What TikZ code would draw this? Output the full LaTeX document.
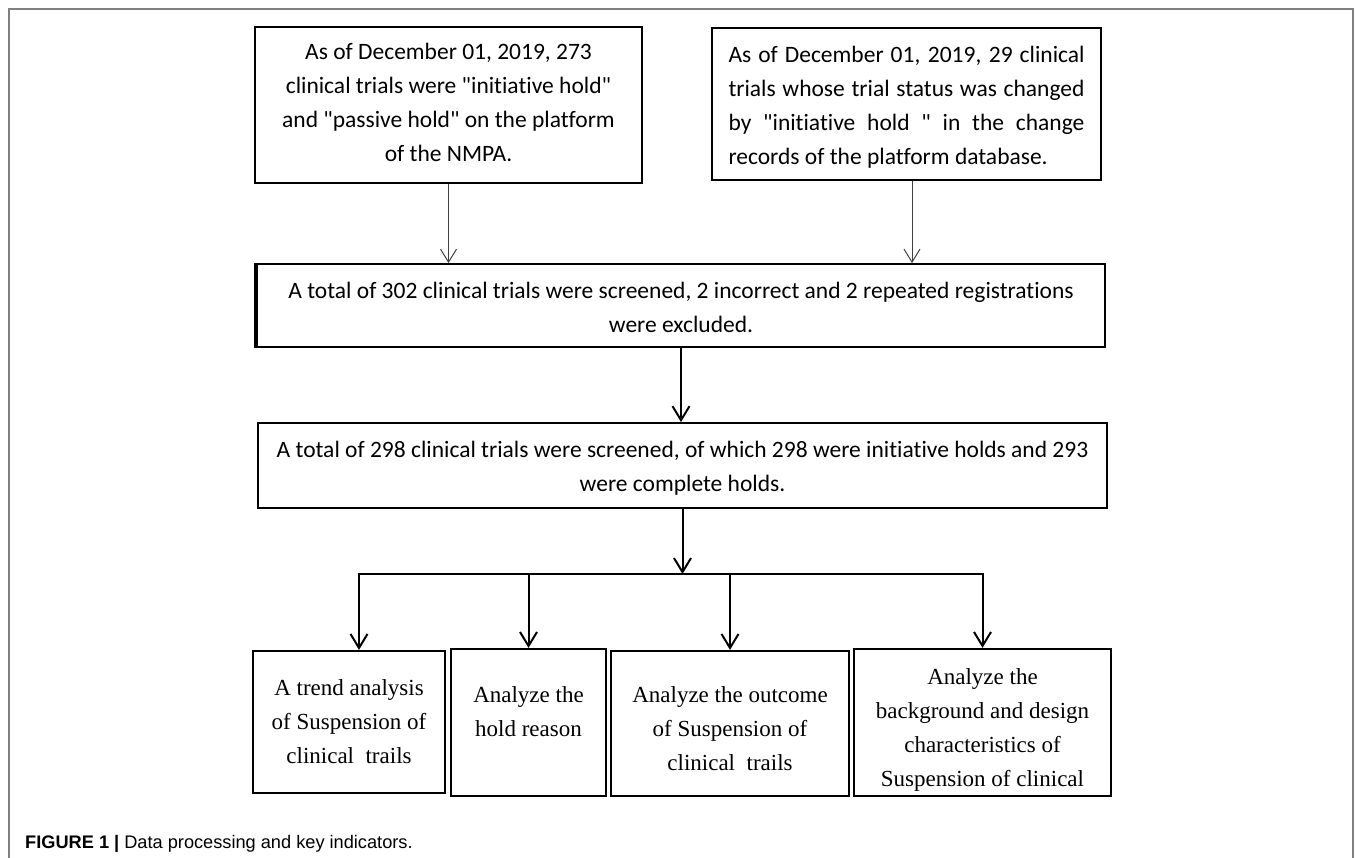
\documentclass[tikz,border=0pt]{standalone}
\usepackage{fontspec}
\newfontfamily\fcal[Ligatures={NoCommon}]{Carlito}
\newfontfamily\ftimes{Liberation Serif}
\newfontfamily\farial{Liberation Sans}
\usetikzlibrary{arrows.meta}
\definecolor{framegray}{HTML}{7F7F7F}
\begin{document}
\begin{tikzpicture}[x=1pt,y=-1pt,
  box/.style={draw=black, line width=1.8pt, inner sep=0pt},
  lowbox/.style={draw=black, line width=2.2pt, inner sep=0pt},
  toptext/.style={inner sep=0pt, align=center, font=\fcal\fontsize{23.5}{34}\selectfont},
  lowtext/.style={inner sep=0pt, align=center, font=\ftimes\fontsize{23}{34}\selectfont},
  thinarrow/.style={draw=black!75, line width=1pt, -{Straight Barb[length=13pt,width=16pt]}},
  thickarrow/.style={draw=black, line width=2pt, -{Straight Barb[length=14pt,width=17pt]}},
  busline/.style={draw=black, line width=2pt, line cap=rect}
]
\useasboundingbox (0,0) rectangle (1357,858);
% frame
\draw[framegray, line width=1.5pt] (9,858) -- (9,9) -- (1353,9) -- (1353,858);

% boxes
\node[box, minimum width=387pt, minimum height=156pt] (b1) at (448.5,105) {};
\node[box, minimum width=389pt, minimum height=152pt] (b2) at (906.5,104) {};
\node[box, minimum width=848pt, minimum height=83pt] (b3) at (681,305.5) {};
\node[box, minimum width=849pt, minimum height=85pt] (b4) at (682.5,465.5) {};
\node[lowbox, minimum width=192pt, minimum height=142pt] (b5) at (349,722) {};
\node[lowbox, minimum width=155pt, minimum height=147pt] (b6) at (528.5,722.5) {};
\node[lowbox, minimum width=238pt, minimum height=145pt] (b7) at (730,723.5) {};
\node[lowbox, minimum width=257pt, minimum height=147pt] (b8) at (982.5,722.5) {};
\draw[line width=4pt] (b3.north west) -- (b3.south west);

% texts
\node[toptext] (t1) at ([yshift=2.4pt]b1.center) {As of December 01, 2019, 273\\clinical trials were "initiative hold"\\and "passive hold" on the platform\\of the NMPA.};
\node[toptext, align=left] (t2) at ([yshift=-3.1pt]b2.center) {\makebox[356pt][s]{As of December 01, 2019, 29 clinical}\\\makebox[356pt][s]{trials whose trial status was changed}\\\makebox[356pt][s]{by "initiative hold " in the change}\\records of the platform database.};
\node[toptext] (t3) at ([yshift=-2.3pt]b3.center) {A total of 302 clinical trials were screened, 2 incorrect and 2 repeated registrations\\were excluded.};
\node[toptext] (t4) at ([yshift=-2.8pt]b4.center) {A total of 298 clinical trials were screened, of which 298 were initiative holds and 293\\were complete holds.};
\node[lowtext] (t5) at (b5.center) {A trend analysis\\of Suspension of\\clinical~ trails};
\node[lowtext] (t6) at ([yshift=11.3pt]b6.center) {Analyze the\\hold reason};
\node[lowtext] (t7) at ([yshift=-4.7pt]b7.center) {Analyze the outcome\\of Suspension of\\clinical~ trails};
\node[lowtext] (t8) at ([yshift=-7.1pt]b8.center) {Analyze the\\background and design\\characteristics of\\Suspension of clinical};

% connectors
\coordinate (b2s) at ([xshift=5.5pt]b2.south);
\draw[thinarrow] (b1.south) -- (b1.south |- b3.north);
\draw[thinarrow] (b2s) -- (b2s |- b3.north);
\draw[thickarrow] (b3.south) -- (b3.south |- b4.north);
\coordinate (busL) at (359,574);
\coordinate (busR) at (b8.north |- busL);
\draw[busline] (busL) -- (busR);
\draw[thickarrow] (b4.south) -- (b4.south |- busL);
\draw[thickarrow] (busL) -- (busL |- b5.north);
\draw[thickarrow] (b6.north |- busL) -- (b6.north);
\draw[thickarrow] (b7.north |- busL) -- (b7.north);
\draw[thickarrow] (busR) -- (b8.north);

% caption
\node[anchor=base west, inner sep=0pt, font=\farial\fontsize{18.2}{22}\selectfont] (cap) at (25,848) {\textbf{FIGURE 1 |} Data processing and key indicators.};
\end{tikzpicture}
\end{document}
